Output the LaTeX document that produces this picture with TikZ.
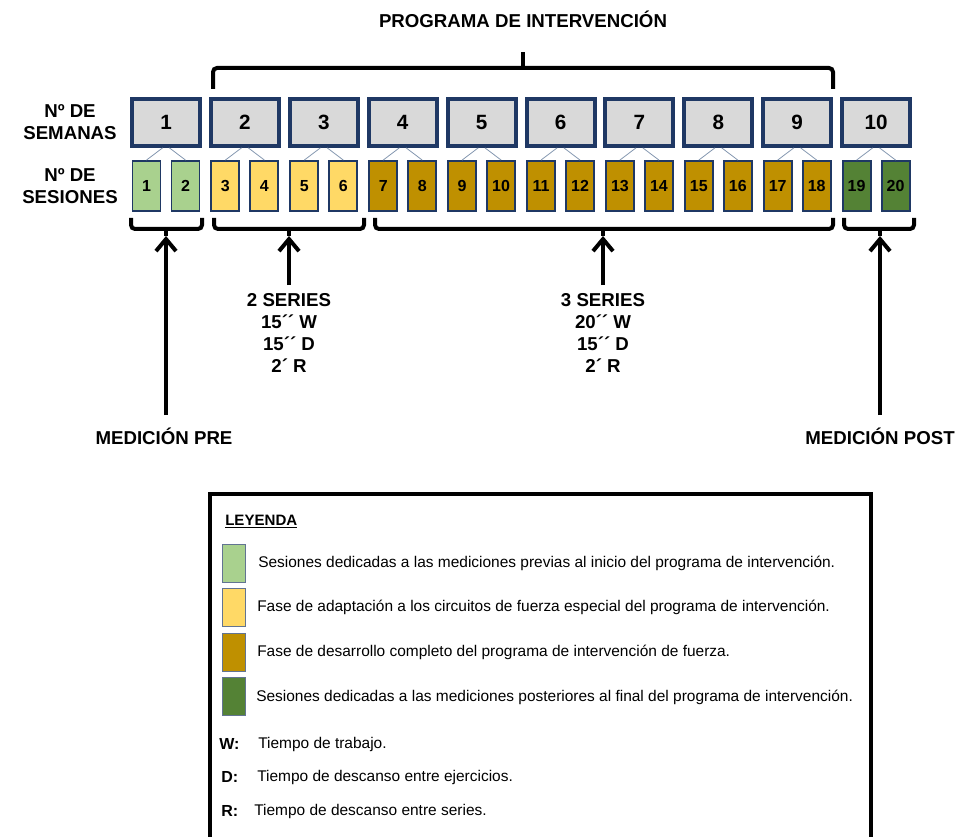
\documentclass[tikz,border=0pt]{standalone}
\usepackage{fontspec}
\setmainfont{Liberation Sans}
\usetikzlibrary{arrows.meta}
\definecolor{navy}{HTML}{1F3864}
\definecolor{wkgray}{HTML}{D9D9D9}
\definecolor{thinc}{HTML}{8497B0}
\definecolor{cpre}{HTML}{A9D18E}
\definecolor{cadapt}{HTML}{FFD966}
\definecolor{cfull}{HTML}{BF9000}
\definecolor{cpost}{HTML}{548235}
\tikzset{
  week/.style={draw=navy, line width=3pt, fill=wkgray, minimum width=51pt, minimum height=35pt, inner sep=0pt, font=\fontsize{15.5}{17}\selectfont\bfseries},
  sess/.style={draw=navy, line width=1.4pt, fill=#1, minimum width=21pt, minimum height=37.5pt, inner sep=0pt, font=\fontsize{12}{14}\selectfont\bfseries},
  thinline/.style={draw=thinc, line width=0.6pt},
  brk/.style={line width=3pt, rounded corners=3pt},
  arr/.style={line width=3pt, -{Straight Barb[length=9pt,width=15pt]}},
  lbl/.style={font=\fontsize{14}{16.5}\selectfont\bfseries, align=center, inner sep=0pt},
  legtxt/.style={anchor=west, inner sep=0pt, font=\fontsize{11.6}{13}\selectfont},
  legkey/.style={anchor=west, inner sep=0pt, font=\fontsize{12}{14}\selectfont\bfseries},
  swatch/.style={draw=navy!70, line width=1pt, fill=#1, minimum width=17pt, minimum height=28.5pt, inner sep=0pt}
}
\begin{document}
\begin{tikzpicture}[x=0.75pt, y=-0.75pt]
\useasboundingbox (0,0) rectangle (959,837);

% title
\node[lbl] (title) at (523,19) {PROGRAMA DE INTERVENCIÓN};

% row labels
\node[lbl] (lw) at (70,122) {Nº DE\\SEMANAS};
\node[lbl] (ls) at (70,186) {Nº DE\\SESIONES};

% weeks and sessions
\foreach \i in {1,...,10} {
  \pgfmathsetmacro{\cx}{166+(\i-1)*78.9}
  \node[week] (w\i) at (\cx,122.5) {\i};
}
\foreach \i/\c in {1/cpre,2/cadapt,3/cadapt,4/cfull,5/cfull,6/cfull,7/cfull,8/cfull,9/cfull,10/cpost} {
  \pgfmathsetmacro{\cx}{166+(\i-1)*78.9}
  \pgfmathtruncatemacro{\sa}{2*\i-1}
  \pgfmathtruncatemacro{\sb}{2*\i}
  \node[sess=\c] (s\sa) at (\cx-19.5,186) {\sa};
  \node[sess=\c] (s\sb) at (\cx+19.5,186) {\sb};
  \draw[thinline] ([xshift=-2.5pt]w\i.south) -- (s\sa.north);
  \draw[thinline] ([xshift=2.5pt]w\i.south) -- (s\sb.north);
}

% top bracket
\draw[brk] (213,89) -- (213,68) -- (833,68) -- (833,89);
\draw[line width=3pt] (523,69) -- (523,52);

% bottom brackets
\draw[brk] (131,218) -- (131,229) -- (202,229) -- (202,218);
\draw[brk] (214,218) -- (214,229) -- (364,229) -- (364,218);
\draw[brk] (375,218) -- (375,229) -- (833,229) -- (833,218);
\draw[brk] (844,218) -- (844,229) -- (914,229) -- (914,218);
\coordinate (t1) at (166,236);
\coordinate (t2) at (289,236);
\coordinate (t3) at (603,236);
\coordinate (t4) at (880,236);
\foreach \t in {1,2,3,4} {\draw[line width=3pt] (t\t) -- ++(0,-8);}

% labels below
\node[lbl] (ser1) at (289,333) {2 SERIES\\15´´ W\\15´´ D\\2´ R};
\node[lbl] (ser2) at (603,333) {3 SERIES\\20´´ W\\15´´ D\\2´ R};
\node[lbl] (pre) at (164,436) {MEDICIÓN PRE};
\node[lbl] (post) at (880,436) {MEDICIÓN POST};
\coordinate (pa) at (166,415);
\coordinate (pb) at (880,415);

\draw[arr] (pa) -- (t1);
\draw[arr] (pb) -- (t4);
\draw[arr] ([yshift=6pt]ser1.north) -- (t2);
\draw[arr] ([yshift=6pt]ser2.north) -- (t3);

% legend
\draw[line width=2.3pt] (210,494) rectangle (871,860);
\node[anchor=west, inner sep=0pt, font=\fontsize{11.3}{13}\selectfont\bfseries] (ley) at (225,522) {\underline{LEYENDA}};
\node[swatch=cpre] (k1) at (234,563.5) {};
\node[swatch=cadapt] (k2) at (234,607.5) {};
\node[swatch=cfull] (k3) at (234,652.5) {};
\node[swatch=cpost] (k4) at (234,696.5) {};
\node[legtxt] (d1) at (258,563) {Sesiones dedicadas a las mediciones previas al inicio del programa de intervención.};
\node[legtxt] (d2) at (257,607) {Fase de adaptación a los circuitos de fuerza especial del programa de intervención.};
\node[legtxt] (d3) at (257,652) {Fase de desarrollo completo del programa de intervención de fuerza.};
\node[legtxt] (d4) at (256,697) {Sesiones dedicadas a las mediciones posteriores al final del programa de intervención.};
\node[legkey] (kw) at (219,744) {W:};
\node[legkey] (kd) at (221,777) {D:};
\node[legkey] (kr) at (221,811) {R:};
\node[legtxt] (tw) at (258,744) {Tiempo de trabajo.};
\node[legtxt] (td) at (257,777) {Tiempo de descanso entre ejercicios.};
\node[legtxt] (tr) at (254,811) {Tiempo de descanso entre series.};
\end{tikzpicture}
\end{document}
